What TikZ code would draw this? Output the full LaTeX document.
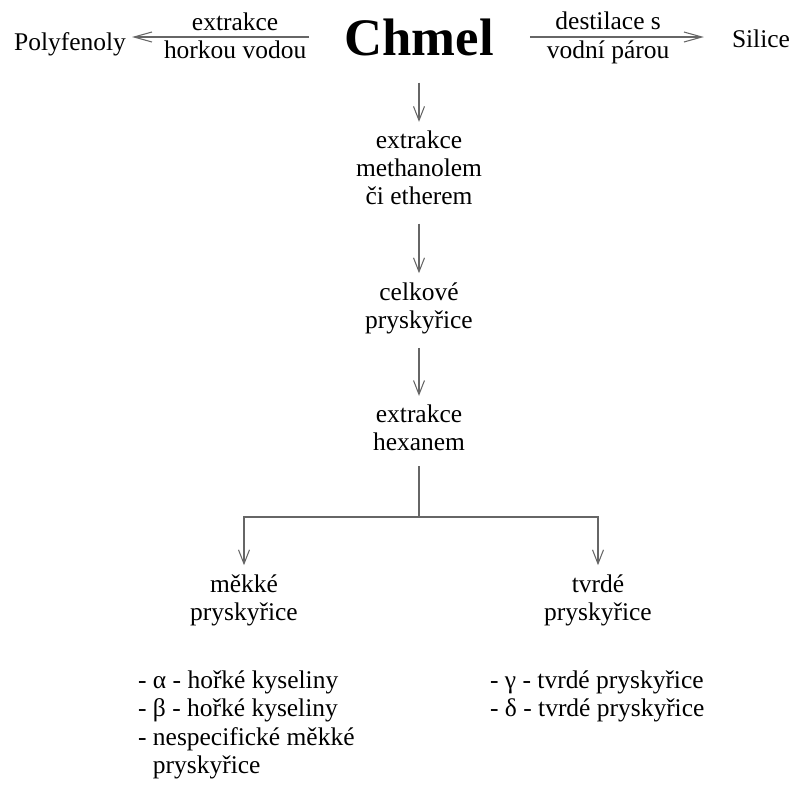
\documentclass[tikz,border=0pt]{standalone}
\usepackage{fontspec}
\setmainfont{Liberation Serif}
\usetikzlibrary{arrows.meta}

\begin{document}
\begin{tikzpicture}[x=0.02cm, y=-0.02cm, font=\fontsize{14.5pt}{16pt}\selectfont,
    every node/.style={align=center, inner sep=1pt},
    link/.style={draw=black!60, line width=0.6pt},
    arr/.style={link, -{Straight Barb[length=0.28cm, width=0.22cm]}, shorten >=0.14cm},
    sidearr/.style={link, -{Straight Barb[length=0.36cm, width=0.2cm]}}]
  \useasboundingbox (0,0) rectangle (794,785);
  \node[font=\bfseries\fontsize{30pt}{30pt}\selectfont] (chmel) at (419,37) {Chmel};
  \node (poly) at (70,44) {Polyfenoly};
  \node (sil) at (761,39) {Silice};
  \node (ext1) at (419,168) {extrakce\\methanolem\\či etherem};
  \node (celk) at (419,308) {celkové\\pryskyřice};
  \node (hex) at (419,428) {extrakce\\hexanem};
  \node (soft) at (244,600) {měkké\\pryskyřice};
  \node (hard) at (598,600) {tvrdé\\pryskyřice};
  \node[anchor=north west, align=left] (softlist) at (136,669) {- α - hořké kyseliny\\- β - hořké kyseliny\\- nespecifické měkké\\\hphantom{- }pryskyřice};
  \node[anchor=north west, align=left] (hardlist) at (488,669) {- γ - tvrdé pryskyřice\\- δ - tvrdé pryskyřice};
  \coordinate (split) at (419,517);
  \draw[sidearr, shorten <=0.66cm, shorten >=0.08cm] (chmel.west) -- (chmel.west -| poly.east)
    node[pos=0.5, above=2pt] {extrakce} node[pos=0.5, below=1pt] {horkou vodou};
  \draw[sidearr, shorten <=0.68cm, shorten >=0.52cm] (chmel.east) -- (chmel.east -| sil.west)
    node[pos=0.48, above=3pt] {destilace s} node[pos=0.48, below=1pt] {vodní párou};
  \draw[arr, shorten <=0.5cm] (chmel) -- (ext1);
  \draw[arr, shorten <=0.33cm] (ext1) -- (celk);
  \draw[arr, shorten <=0.24cm] (celk) -- (hex);
  \draw[link, shorten <=0.26cm] (hex) -- (split);
  \draw[arr] (split) -| (soft);
  \draw[arr] (split) -| (hard);
\end{tikzpicture}
\end{document}
